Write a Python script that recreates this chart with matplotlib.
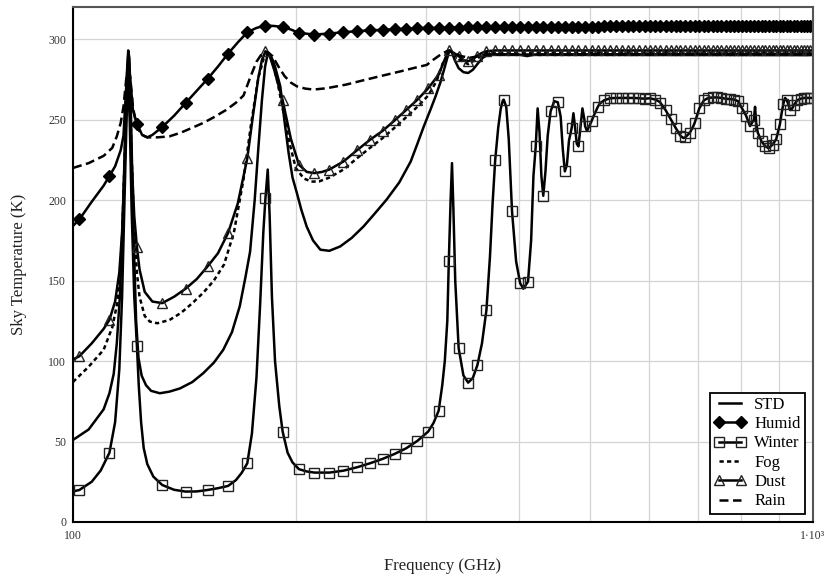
import numpy as np
import matplotlib
matplotlib.use("Agg")
import matplotlib.pyplot as plt

plt.rcParams['font.family'] = ['Liberation Serif', 'DejaVu Serif']

# ---------------- data (frequency GHz, sky temperature K) ----------------
std_f = [100, 105, 110, 112, 113.5, 114.6, 115.7, 116.7, 117.6, 118.3, 118.75, 119.2, 119.8, 120.7,
         121.7, 122.6, 123.8, 125.5, 127.5, 131, 135, 139.5, 145, 150, 155, 159.6, 164, 168, 171,
         173.5, 176, 178, 180, 181.8, 183.3, 185, 187.5, 190.6, 193, 195.6, 198, 200.7, 203.5, 206.9,
         211, 215.9, 222, 229.6, 238, 246.9, 255, 265.2, 276, 286, 292, 298, 304, 309, 313.6, 317,
         320, 322.6, 325, 328, 332, 337, 342, 347, 353, 358, 364, 380, 400, 411, 420, 1000]
std_t = [51, 57.5, 70, 80, 92, 111, 140, 185, 240, 280, 293, 288, 250, 180,
         125, 102, 91, 85, 81.5, 80, 81, 83, 87, 92.5, 99, 107, 118, 134, 152,
         168, 200, 232, 262, 283, 291, 290, 283, 270.7, 250, 229.3, 214, 204.4, 194, 183.6,
         175, 169.2, 168.5, 171.2, 176.5, 183.6, 191, 200.2, 211, 224, 235, 246, 256, 264.5, 273, 280.5,
         287.3, 293, 292, 287, 282, 279.5, 279, 281, 285.3, 288.5, 290.4, 290.6, 290.5, 289.5, 290.5, 291]

humid_f = [100, 102, 106, 110, 112, 114, 116, 117, 118, 118.75, 119.5, 120.5, 122, 124, 126, 128, 132,
           137, 142, 147, 152, 157, 162, 167, 172, 177, 182, 187, 192, 197, 202, 212, 222, 232, 242,
           252, 262, 272, 282, 292, 302, 312, 322, 332, 342, 352, 362, 372, 382, 392, 402, 412, 422,
           432, 442, 452, 462, 472, 482, 492, 502, 512, 522, 532, 542, 552, 562, 572, 582, 592, 602,
           612, 622, 632, 642, 652, 662, 672, 682, 692, 702, 712, 722, 732, 742, 752, 762, 772, 782,
           792, 802, 812, 822, 832, 842, 852, 862, 872, 882, 892, 902, 912, 922, 932, 942, 952, 962,
           972, 982, 992, 1000]
humid_t = [184, 188, 199, 209, 215, 221, 231, 240, 270, 290, 275, 256, 247.5, 240.5, 239, 240.5, 245.4,
           252.5, 260.4, 268, 275.3, 283, 291, 298, 304.3, 307, 308.5, 308.2, 307.6, 306, 303.9, 302.9,
           303.5, 304.3, 305, 305.5, 305.8, 306.2, 306.5, 306.8, 307, 307, 307.2, 307.2, 307.3, 307.3,
           307.4, 307.4, 307.5, 307.5, 307.5, 307.6, 307.6, 307.6, 307.7, 307.7, 307.7, 307.8, 307.8,
           307.8, 307.8, 307.8, 307.9, 307.9, 307.9, 307.9, 307.9, 308, 308, 308, 308, 308, 308, 308,
           308, 308, 308, 308, 308, 308, 308, 308, 308, 308, 308, 308, 308, 308, 308, 308, 308, 308,
           308, 308, 308, 308, 308, 308, 308, 308, 308, 308, 308, 308, 308, 308, 308, 308, 308, 308, 308]

winter_f = [100, 102, 106, 109, 112, 114, 115.5, 116.5, 117.4, 118.2, 118.75, 119.3, 120, 121, 122,
            122.7, 123.6, 124.6, 126, 128.4, 132, 137, 142, 147, 152, 157, 162, 166, 169, 172, 174.5,
            177, 179, 180.8, 182, 183.3, 184.4, 185.7, 187.5, 190, 192, 195, 198, 202, 207, 212, 222,
            232, 242, 252, 262, 272, 282, 292, 302, 307, 312, 315.5, 318, 320.5, 322, 323.8, 325.2,
            326.6, 328.5, 332, 337, 342, 347, 352, 357, 362, 366, 369, 372, 375.5, 378.5, 381, 382,
            385, 388, 392, 397, 402, 406, 412, 416, 419, 422, 424.5, 427, 429.5, 432, 435, 438, 442,
            447, 452, 456, 459, 462, 465, 468, 472, 474.5, 477, 479.5, 482, 485, 488, 491, 492, 495,
            502, 505, 512, 515, 522, 532, 542, 552, 562, 572, 582, 592, 602, 612, 621, 622, 632, 641,
            642, 652, 662, 668, 672, 682, 689, 692, 702, 712, 722, 732, 742, 752, 762, 772, 782, 792,
            802, 812, 822, 832, 835, 838, 842, 848, 852, 862, 870, 872, 882, 892, 902, 907, 912, 917,
            922, 932, 936, 942, 952, 962, 972, 982, 992, 1000]
winter_t = [19, 19.9, 25, 32, 43, 62, 95, 140, 200, 255, 270, 250, 195, 140, 109.5,
            85, 62, 46, 36, 28.2, 23, 20, 18.9, 19, 19.9, 21, 22.4, 26, 30.5, 36.5, 55,
            90, 135, 180, 201.3, 219, 190, 140, 100, 72, 56.2, 43, 37, 32.8, 31.4, 30.7, 30.7,
            31.9, 34, 36.5, 39.2, 42.3, 45.8, 50.4, 56.2, 61.5, 69.2, 85, 100, 125, 162, 200, 223,
            195, 150, 108, 91, 86.6, 89.5, 97.6, 111, 131.8, 165, 198, 225, 245, 257, 262, 262.4,
            258, 238, 193, 162, 148.4, 145, 149.4, 175, 215, 233.4, 257, 242, 215, 202.7, 218, 240, 255.2,
            261.5, 260.8, 252, 232, 217.9, 222, 237, 245, 254, 245, 235, 233.4, 245, 257, 250, 246, 243,
            249, 252, 258, 260, 262, 263.3, 263.5, 263.5, 263.5, 263.5, 263.3, 263, 263.3, 262.5, 261, 260.5, 256, 251,
            250.5, 245, 240, 238.6, 239, 242, 246, 248, 257, 262, 263.5, 263.8, 263.8, 263.5, 263, 262.8, 262.5, 261.5,
            257, 252.5, 246, 250, 258, 248, 242, 238.6, 236.5, 233.5, 232.4, 232.5, 234.5, 238, 247, 254, 260, 263.5,
            262, 256, 256.5, 259, 262, 263, 263.5, 263.5, 263.5, 263.5]

fog_f = [100, 105, 110, 113, 115, 116.5, 117.5, 118.3, 118.75, 119.3, 120, 121, 122, 123, 125, 127, 130,
         135, 140, 145, 150, 155, 160, 165, 170, 174, 178, 181, 183.3, 186, 189, 192, 196, 200, 205,
         210, 215, 222, 232, 242, 252, 262, 272, 282, 292, 302, 310, 316, 321, 323, 327, 332, 342, 352,
         362, 400, 1000]
fog_t = [87, 96.5, 107, 121, 138, 175, 230, 275, 285, 272, 228, 180, 155, 140, 128, 124.5, 123.5,
         125.5, 130, 136, 142.5, 150, 160, 180, 213, 247, 276, 288, 291, 287, 273, 257, 236, 220, 213.5,
         211.5, 211.6, 214, 219, 226, 232.5, 238.5, 245, 251.5, 258, 265, 274, 285, 291, 293, 290, 287.5,
         284.5, 288, 291.5, 291.5, 292]

dust_f = [100, 102, 106, 110, 112, 114, 115.5, 116.5, 117.5, 118.2, 118.75, 119.3, 120, 121, 122, 123,
          125, 128, 132, 137, 142, 147, 152, 157, 162, 167, 172, 175, 178, 180, 182, 184, 187, 192,
          197, 202, 207, 212, 217, 222, 232, 242, 252, 262, 272, 282, 292, 302, 312, 317, 322, 327,
          332, 337, 342, 347, 352, 357, 362, 372, 382, 392, 402, 412, 422, 432, 442, 452, 462, 472,
          482, 492, 502, 512, 522, 532, 542, 552, 562, 572, 582, 592, 602, 612, 622, 632, 642, 652,
          662, 672, 682, 692, 702, 712, 722, 732, 742, 752, 762, 772, 782, 792, 802, 812, 822, 832,
          842, 852, 862, 872, 882, 892, 902, 912, 922, 932, 942, 952, 962, 972, 982, 992, 1000]
dust_t = [101, 103, 111, 120, 125.6, 137, 155, 180, 225, 265, 280, 265, 225, 190, 171, 157,
          143, 137, 136, 140, 145, 151, 158.8, 167, 179.5, 198, 226, 252, 276, 287, 292.5, 291, 281, 262,
          238, 222, 217.5, 216.8, 217.5, 219, 224, 231, 237.5, 243, 249.5, 256, 262.4, 269.5, 278, 286,
          293, 291.5, 289.5, 287, 286.3, 287.5, 289.8, 291.5, 292.5, 293, 293, 293, 293, 293, 293, 293,
          293, 293, 293, 293, 293, 293, 293, 293, 293, 293, 293, 293, 293, 293, 293, 293, 293, 293, 293,
          293, 293, 293, 293, 293, 293, 293, 293, 293, 293, 293, 293, 293, 293, 293, 293, 293, 293, 293,
          293, 293, 293, 293, 293, 293, 293, 293, 293, 293, 293, 293, 293, 293, 293, 293, 293, 293, 293]

rain_f = [100, 105, 110, 113, 114.6, 116, 117, 118, 118.75, 119.5, 120.5, 121.5, 122.5, 124, 126, 130,
          135, 140, 145, 150, 155, 161, 166, 170, 173.5, 177, 180, 183.3, 186, 189.5, 193.2, 197,
          200.7, 206, 211.3, 220, 234, 247, 260, 277, 290, 300.6, 307, 314, 320, 326, 334, 344, 354,
          364, 1000]
rain_t = [220, 223, 227.5, 232.5, 239.6, 248, 258, 275, 284, 276, 258, 249, 244, 240.5, 239, 239,
          239.6, 242, 245, 248, 251.5, 256, 260.5, 265, 276, 286, 291, 292, 289.5, 283, 277, 273,
          270.7, 269.3, 268.7, 269.5, 271.8, 274.5, 277, 280, 282.3, 284, 287.3, 290.5, 292.5, 292, 289.5,
          288.5, 289.5, 290.5, 290.5]

names = ['STD', 'Humid', 'Winter', 'Fog', 'Dust', 'Rain']


def marker_idx(freqs):
    f = np.asarray(freqs, dtype=float)
    return [i for i, v in enumerate(f) if v >= 102 and abs(((v - 102) % 10)) < 1e-6]


# ---------------- figure ----------------
fig = plt.figure(figsize=(8.27, 5.74), dpi=100)
ax = fig.add_axes([73 / 827, 1 - 522 / 574, 740 / 827, 515 / 574])

lw = 1.8
ax.plot(std_f, std_t, color='black', lw=lw, label=names[0])
ax.plot(humid_f, humid_t, color='black', lw=lw, marker='D', ms=6.5, markevery=marker_idx(humid_f),
        label=names[1])
ax.plot(winter_f, winter_t, color='black', lw=lw, marker='s', ms=7.5, mfc='none', mec='#222222',
        mew=1.0, markevery=marker_idx(winter_f), label=names[2])
ax.plot(fog_f, fog_t, color='black', lw=lw, ls=(0, (1.7, 1.3)), label=names[3])
ax.plot(dust_f, dust_t, color='black', lw=lw, marker='^', ms=7.5, mfc='none', mec='#222222',
        mew=1.0, markevery=marker_idx(dust_f), label=names[4])
ax.plot(rain_f, rain_t, color='black', lw=lw, ls=(0, (3.6, 1.8)), label=names[5])

ax.set_xscale('log')
ax.set_xlim(100, 1000)
ax.set_ylim(0, 320)
ax.set_xticks([100, 1000])
ax.set_xticklabels(['100', '1·10³'])
ax.set_xticks([200, 300, 400, 500, 600, 700, 800, 900], minor=True)
ax.xaxis.set_minor_formatter(matplotlib.ticker.NullFormatter())
ax.set_yticks([0, 50, 100, 150, 200, 250, 300])
ax.grid(True, which='both', color='#d4d4d4', lw=0.9)
ax.set_axisbelow(True)
ax.tick_params(which='both', length=0, labelsize=8.5, colors='#333333')
ax.tick_params(axis='y', pad=5)
ax.tick_params(axis='x', pad=6)

for s in ['left', 'bottom']:
    ax.spines[s].set_color('black')
    ax.spines[s].set_linewidth(1.5)
for s in ['top', 'right']:
    ax.spines[s].set_color('#555555')
    ax.spines[s].set_linewidth(1.5)

ax.set_xlabel('Frequency (GHz)', fontsize=12, color='#222222', labelpad=11)
ax.set_ylabel('Sky Temperature (K)', fontsize=12, color='#222222', labelpad=15)

leg = ax.legend(loc='lower right', fontsize=12, frameon=True, fancybox=False, framealpha=1,
                edgecolor='black', numpoints=2, handlelength=1.9, handletextpad=0.5,
                labelspacing=0.2, borderpad=0.25, borderaxespad=0.5)
leg.get_frame().set_linewidth(1.3)

fig.savefig('out.png', dpi=100)
